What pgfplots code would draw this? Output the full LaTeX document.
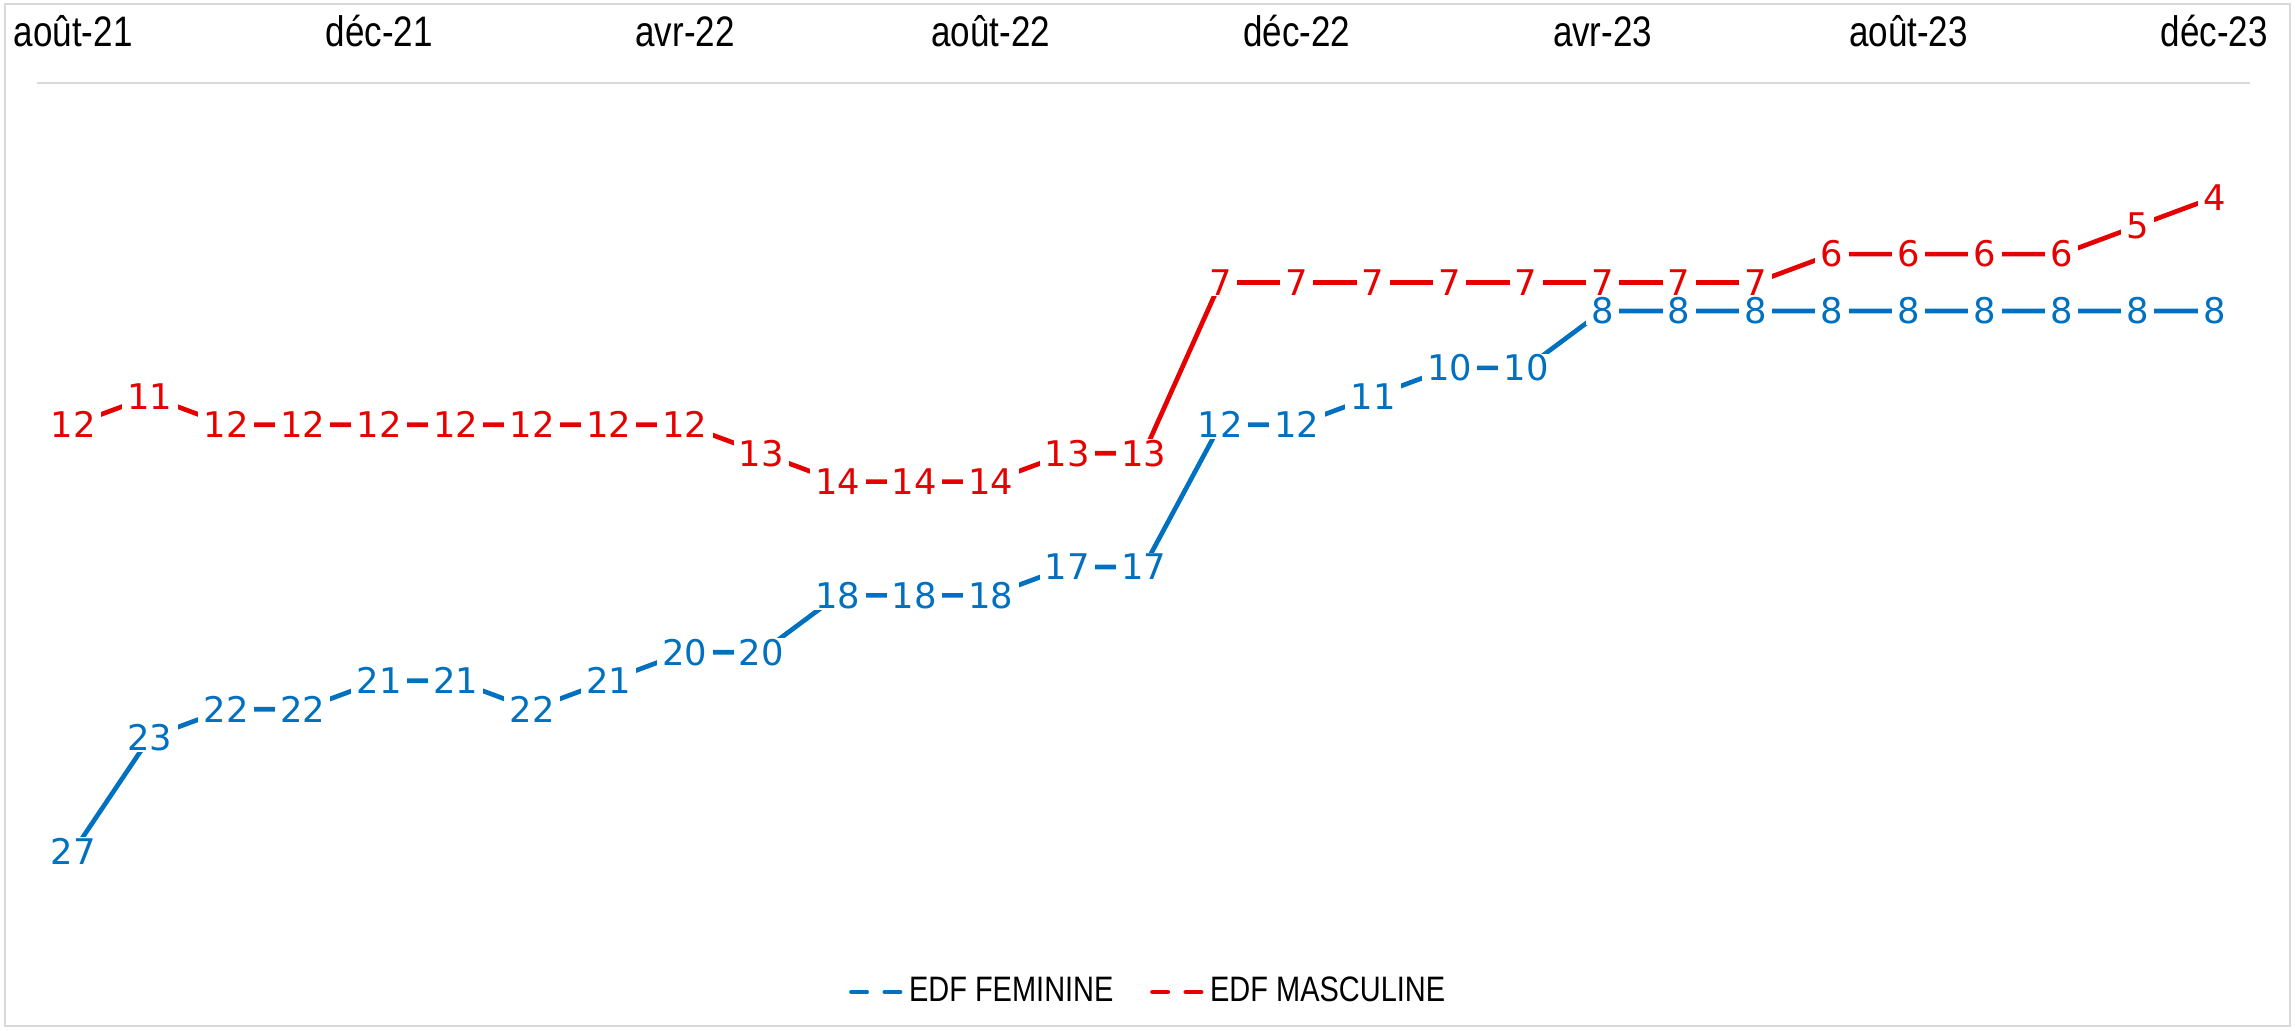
\documentclass[border=0pt]{standalone}
\usepackage{fontspec}
\usepackage{pgfplots}
\pgfplotsset{compat=1.18}
\setmainfont{Liberation Sans}
\newfontfamily\narrowfont{Liberation Sans}[FakeStretch=0.82]
\newfontfamily\labelfont{DejaVu Sans}
\definecolor{edfblue}{RGB}{0,112,192}
\definecolor{edfred}{RGB}{230,0,0}
\begin{document}
\begin{tikzpicture}
\path[use as bounding box] (0,0) rectangle (688.5pt,309pt);
\draw[line width=0.8pt, draw=black!15] (1.5pt,1.2pt) rectangle (687pt,307.8pt);
\begin{axis}[
  at={(11.19pt,28.0pt)}, anchor=south west,
  width=663.9pt, height=255.96pt, scale only axis,
  xmin=-0.47, xmax=28.47, ymin=0, ymax=30, y dir=reverse,
  axis line style={draw=none},
  ytick=\empty,
  xtick={0,4,...,28},
  xticklabels={août-21,déc-21,avr-22,août-22,déc-22,avr-23,août-23,déc-23},
  xticklabel pos=upper,
  major tick length=0pt,
  xticklabel style={font=\narrowfont\fontsize{12.8}{14}\selectfont, anchor=base, yshift=11pt},
  clip=false,
  /pgf/number format/assume math mode=true,
  nodes near coords,
  every node near coord/.append style={anchor=center, fill=white, inner xsep=1.6pt, inner ysep=0.3pt, font=\labelfont\fontsize{10.6}{12}\selectfont},
  legend image code/.code={\draw[#1, line width=1.4pt, dash pattern=on 4.6pt off 5.4pt, line cap=round] (0pt,0pt) -- (14.6pt,0pt);},
  legend style={draw=none, fill=none, font=\narrowfont\fontsize{10.6}{13}\selectfont,
    at={(0.5,0)}, anchor=center, yshift=-16.6pt, xshift=2pt,
    /tikz/every even column/.append style={column sep=9pt}},
  legend columns=2,
]
\draw[line width=0.6pt, draw=black!15] (axis cs:-0.47,0) -- (axis cs:28.47,0);
\addplot[edfblue, line width=1.4pt, mark=none, every node near coord/.append style={text=edfblue}] coordinates {
(0,27) (1,23) (2,22) (3,22) (4,21) (5,21) (6,22) (7,21) (8,20) (9,20)
(10,18) (11,18) (12,18) (13,17) (14,17) (15,12) (16,12) (17,11) (18,10) (19,10)
(20,8) (21,8) (22,8) (23,8) (24,8) (25,8) (26,8) (27,8) (28,8)};
\addlegendentry{EDF FEMININE}
\addplot[edfred, line width=1.4pt, mark=none, every node near coord/.append style={text=edfred}] coordinates {
(0,12) (1,11) (2,12) (3,12) (4,12) (5,12) (6,12) (7,12) (8,12) (9,13)
(10,14) (11,14) (12,14) (13,13) (14,13) (15,7) (16,7) (17,7) (18,7) (19,7)
(20,7) (21,7) (22,7) (23,6) (24,6) (25,6) (26,6) (27,5) (28,4)};
\addlegendentry{EDF MASCULINE}
\end{axis}
\end{tikzpicture}
\end{document}
